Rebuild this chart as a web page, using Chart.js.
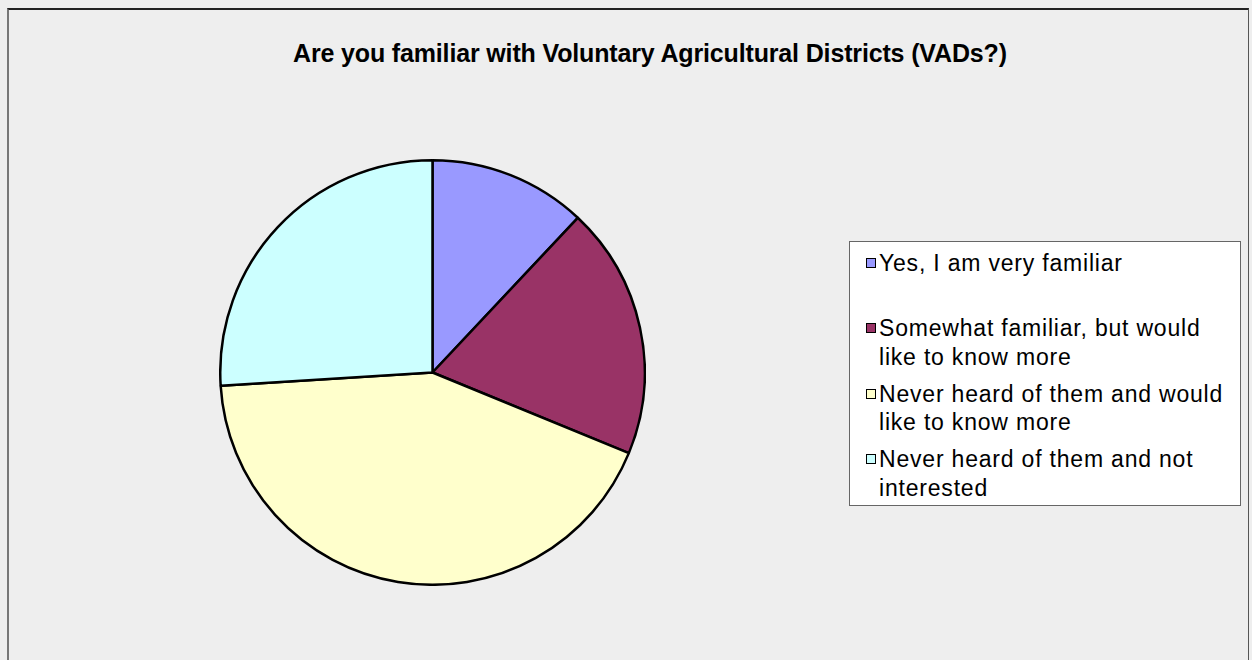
<!DOCTYPE html>
<html><head><meta charset="utf-8">
<script src="https://cdn.jsdelivr.net/npm/chart.js@4"></script>
<style>
html,body{margin:0;padding:0;background:#eeeeee;width:1252px;height:660px;overflow:hidden;font-family:"Liberation Sans",Arial,sans-serif;}
#frame{position:absolute;left:7px;top:8px;width:1242px;height:700px;border-top:2px solid #222;border-left:2px solid #777;border-right:1px solid #555;box-sizing:border-box;}
#title{position:absolute;left:293px;top:38.5px;white-space:nowrap;font-weight:bold;font-size:25px;line-height:28px;color:#000;}
#pieWrap{position:absolute;left:218.5px;top:159px;width:426px;height:426px;}
#legend{position:absolute;left:849px;top:241px;width:392px;height:265px;background:#fff;border:1px solid #666;box-sizing:border-box;}
.item{position:absolute;left:16px;font-size:23px;line-height:28.5px;color:#000;letter-spacing:0.8px;}
.sw{position:absolute;left:0;top:9px;width:8px;height:8px;border:1.5px solid #000;}
.txt{position:absolute;left:13px;top:0;white-space:nowrap;}
</style>
</head><body>
<div id="frame"></div>
<div id="title"></div>
<div id="pieWrap"><canvas id="c" width="427" height="427"></canvas></div>
<div id="legend"></div>
<script>
const chartTitle = "Are you familiar with Voluntary Agricultural Districts (VADs?)";
const categories = [
  ["Yes, I am very familiar"],
  ["Somewhat familiar, but would", "like to know more"],
  ["Never heard of them and would", "like to know more"],
  ["Never heard of them and not", "interested"]
];
const values = [12, 19.2, 42.8, 26];
const colors = ["#9999FF", "#993366", "#FFFFCC", "#CCFFFF"];

const chart = new Chart(document.getElementById('c'), {
  type: 'pie',
  data: {
    labels: categories,
    datasets: [{
      data: values,
      backgroundColor: colors,
      borderColor: '#000000',
      borderWidth: 2.5
    }]
  },
  options: {
    responsive: false,
    animation: false,
    layout: {padding: 0},
    plugins: {legend: {display: false}, tooltip: {enabled: false}, title: {display: false}}
  }
});

// title, tightened to the reference width
const t = document.getElementById('title');
t.textContent = chartTitle;
const w = t.getBoundingClientRect().width;
const n = chartTitle.length;
t.style.letterSpacing = ((714 - w) / (n - 1)) + 'px';

// legend built from chart data
const lg = document.getElementById('legend');
const tops = [6.75, 72.25, 137.75, 203.25];
chart.data.labels.forEach((lab, i) => {
  const it = document.createElement('div');
  it.className = 'item';
  it.style.top = tops[i] + 'px';
  const sw = document.createElement('div');
  sw.className = 'sw';
  sw.style.background = chart.data.datasets[0].backgroundColor[i];
  const tx = document.createElement('div');
  tx.className = 'txt';
  tx.innerHTML = lab.map(s => s.replace(/&/g,'&amp;').replace(/</g,'&lt;')).join('<br>');
  it.appendChild(sw); it.appendChild(tx);
  lg.appendChild(it);
});
</script>
</body></html>
